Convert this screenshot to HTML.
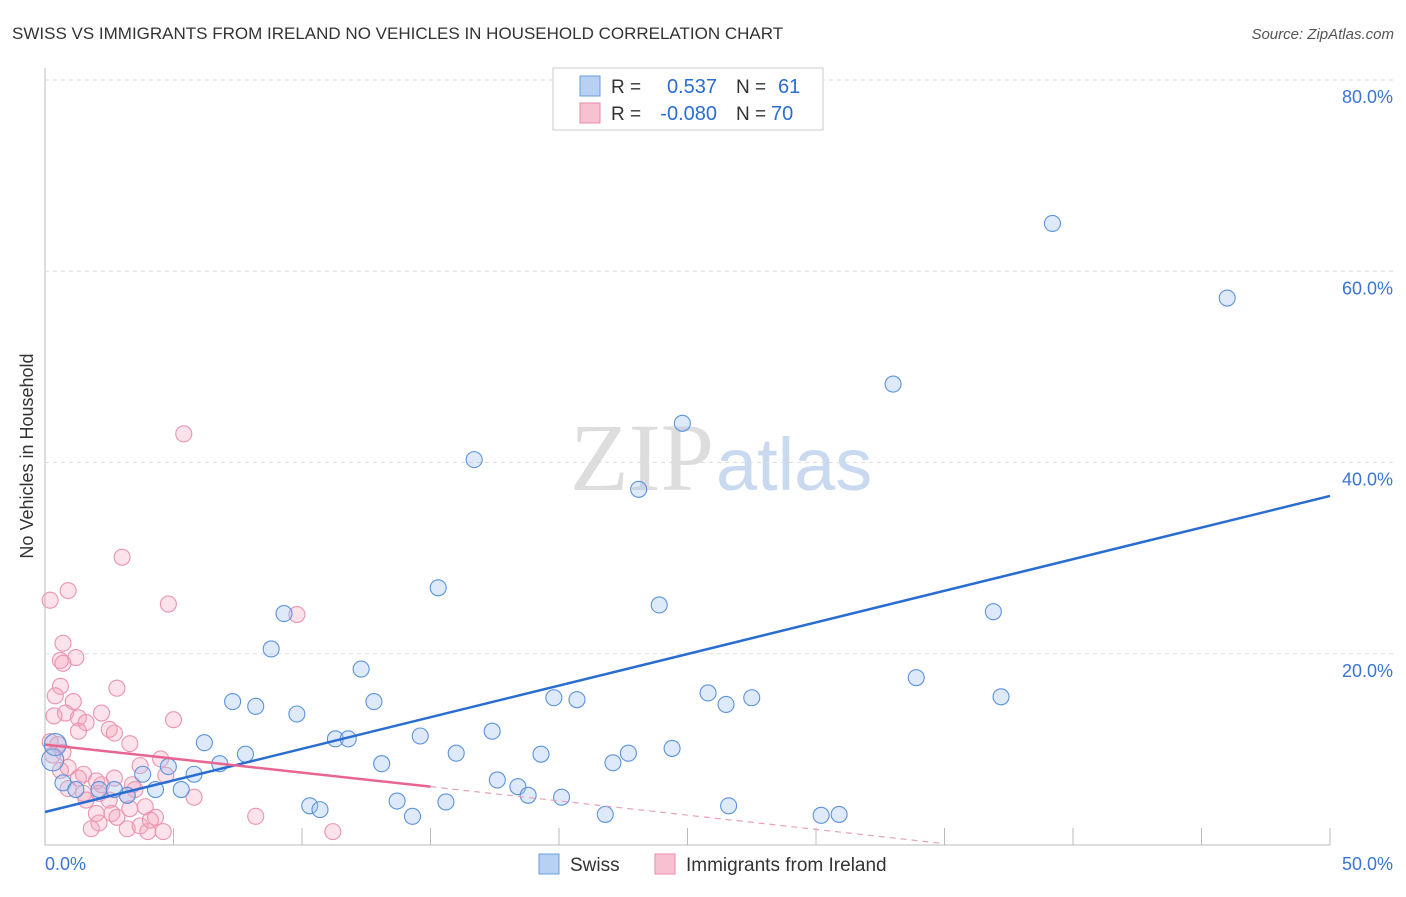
<!DOCTYPE html>
<html><head><meta charset="utf-8"><style>
body{margin:0;background:#fff;font-family:"Liberation Sans",sans-serif}
</style></head><body>
<svg id="c" width="1406" height="892" xmlns="http://www.w3.org/2000/svg">
<text x="12" y="39" font-size="17" fill="#333">SWISS VS IMMIGRANTS FROM IRELAND NO VEHICLES IN HOUSEHOLD CORRELATION CHART</text>
<text x="1394" y="39" font-size="15" fill="#555" font-style="italic" text-anchor="end">Source: ZipAtlas.com</text>
<text x="33" y="456" font-size="18" fill="#333" transform="rotate(-90 33 456)" text-anchor="middle">No Vehicles in Household</text>
<text x="714" y="490" font-size="96" fill="#ddd" font-family="Liberation Serif" text-anchor="end">ZIP</text>
<text x="716" y="490" font-size="74" fill="#c9d9f0">atlas</text>
<g id="grid"></g><g id="pink"></g><g id="blue"></g><g id="lines"></g>
<g>
<rect x="553" y="68" width="270" height="62" fill="#fff" stroke="#ccc"/>
<rect x="580" y="76" width="20" height="20" fill="#b8d1f3" stroke="#6a9de0"/>
<rect x="580" y="103" width="20" height="20" fill="#f7c1d1" stroke="#e88aa8"/>
<text x="611" y="93" font-size="19" fill="#333">R =</text>
<text x="717" y="93" font-size="20" fill="#2a6dd1" text-anchor="end">0.537</text>
<text x="736" y="93" font-size="19" fill="#333">N =</text>
<text x="778" y="93" font-size="20" fill="#2a6dd1">61</text>
<text x="611" y="120" font-size="19" fill="#333">R =</text>
<text x="717" y="120" font-size="20" fill="#2a6dd1" text-anchor="end">-0.080</text>
<text x="736" y="120" font-size="19" fill="#333">N =</text>
<text x="771" y="120" font-size="20" fill="#2a6dd1">70</text>
</g>
<g>
<rect x="539" y="854" width="20" height="20" fill="#b8d1f3" stroke="#6a9de0"/>
<text x="570" y="871" font-size="19" fill="#333">Swiss</text>
<rect x="655" y="854" width="20" height="20" fill="#f7c1d1" stroke="#e88aa8"/>
<text x="686" y="871" font-size="19" fill="#333">Immigrants from Ireland</text>
</g>
</svg>
<script>
const blueX=[39.2,46.0,33.0,24.8,16.7,23.1,15.3,23.9,36.9,9.3,8.8,12.3,33.9,7.3,8.2,12.8,19.8,20.7,25.8,27.5,26.5,37.2,9.8,6.2,11.3,11.8,14.6,17.4,7.8,16.0,19.3,22.7,24.4,6.8,4.8,13.1,22.1,5.8,3.8,17.6,18.4,18.8,20.1,5.3,4.3,3.2,13.7,15.6,10.3,10.7,26.6,21.8,14.3,30.2,30.9,0.7,1.2,2.1,2.7,0.3,0.4];
const blueY=[65.0,57.2,48.2,44.1,40.3,37.2,26.9,25.1,24.4,24.2,20.5,18.4,17.5,15.0,14.5,15.0,15.4,15.2,15.9,15.4,14.7,15.5,13.7,10.7,11.1,11.1,11.4,11.9,9.5,9.6,9.5,9.6,10.1,8.5,8.2,8.5,8.6,7.4,7.4,6.8,6.1,5.2,5.0,5.8,5.8,5.2,4.6,4.5,4.1,3.7,4.1,3.2,3.0,3.1,3.2,6.5,5.8,5.8,5.8,8.9,10.5];
const pinkX=[5.4,3.0,0.9,0.2,4.8,9.8,0.7,1.2,0.6,0.7,0.6,2.8,0.4,1.1,0.35,0.8,2.2,5.0,1.3,1.6,1.3,2.5,2.7,0.2,0.5,3.3,0.7,4.5,3.7,0.9,1.5,1.3,2.7,2.0,0.9,1.5,2.1,3.4,1.6,2.5,3.2,5.8,3.3,2.6,2.0,2.8,4.3,3.9,2.1,1.8,3.2,3.7,4.0,4.6,4.1,8.2,11.2,4.7,0.3,0.6,3.5,2.2];
const pinkY=[43.0,30.1,26.6,25.6,25.2,24.1,21.1,19.6,19.3,19.0,16.6,16.4,15.6,15.0,13.5,13.8,13.8,13.1,13.3,12.8,11.9,12.1,11.7,10.8,10.5,10.6,9.7,9.0,8.3,8.1,7.4,7.0,7.0,6.7,5.9,5.4,5.4,6.3,4.7,4.7,5.2,5.0,3.8,3.3,3.3,2.9,2.9,4.0,2.3,1.7,1.7,2.0,1.4,1.4,2.6,3.0,1.4,7.3,9.4,7.8,5.8,6.3];
const yTicks=[20,40,60,80];
const yTickLabels=["20.0%","40.0%","60.0%","80.0%"];
const xTicks=[5,10,15,20,25,30,35,40,45,50];
const blueTrend=[3.45,36.5];
const pinkTrend=[10.5,6.1,0.2];const pinkTrendX=[0,15,34.8];
const NS="http://www.w3.org/2000/svg";
const sx=v=>45+v*1285/50, sy=v=>845-v*9.5625;
function mk(t,a,p){const e=document.createElementNS(NS,t);for(const k in a)e.setAttribute(k,a[k]);p.appendChild(e);return e;}
const g=document.getElementById('grid');
const ax=mk('line',{x1:45,y1:68,x2:45,y2:845,stroke:'#bbb'},g);


const bx=mk('line',{x1:45,y1:845,x2:1330,y2:845,stroke:'#bbb'},g);


yTicks.forEach((v,i)=>{
 const l=mk('line',{x1:45,y1:sy(v),x2:1395,y2:sy(v),stroke:'#ddd','stroke-dasharray':'4,4'},g);
 
 
 const t=mk('text',{x:1393,y:sy(v)+23,'font-size':18,fill:'#3a75d4','text-anchor':'end'},g);t.textContent=yTickLabels[i];
 
 
});
xTicks.forEach(v=>{const l=mk('line',{x1:sx(v),y1:828,x2:sx(v),y2:845,stroke:'#bbb'},g);
 
 });
const t0=mk('text',{x:45,y:870,'font-size':18,fill:'#3a75d4'},g);t0.textContent='0.0%';


const t1=mk('text',{x:1393,y:870,'font-size':18,fill:'#3a75d4','text-anchor':'end'},g);t1.textContent='50.0%';


const pg=document.getElementById('pink'),bg=document.getElementById('blue');
pinkX.forEach((x,i)=>{const c=mk('circle',{cx:sx(x),cy:sy(pinkY[i]),r:8,fill:'rgba(244,160,185,0.3)',stroke:'#eb94b0','stroke-width':1.1},pg);
 
 });
blueX.forEach((x,i)=>{const big=i>=59;const c=mk('circle',{cx:sx(x),cy:sy(blueY[i]),r:big?11:8,fill:'rgba(160,195,240,0.35)',stroke:'#5b93dc','stroke-width':1.1},bg);
 
 });
const lg=document.getElementById('lines');
const bl=mk('line',{x1:sx(0),y1:sy(blueTrend[0]),x2:sx(50),y2:sy(blueTrend[1]),stroke:'#2a6dd1','stroke-width':2.5},lg);


const pl=mk('line',{x1:sx(pinkTrendX[0]),y1:sy(pinkTrend[0]),x2:sx(pinkTrendX[1]),y2:sy(pinkTrend[1]),stroke:'#e8658f','stroke-width':2.5},lg);


const pd=mk('line',{x1:sx(pinkTrendX[1]),y1:sy(pinkTrend[1]),x2:sx(pinkTrendX[2]),y2:sy(pinkTrend[2]),stroke:'#e8a0b8','stroke-width':1.2,'stroke-dasharray':'6,5'},lg);


</script>
</body></html>
